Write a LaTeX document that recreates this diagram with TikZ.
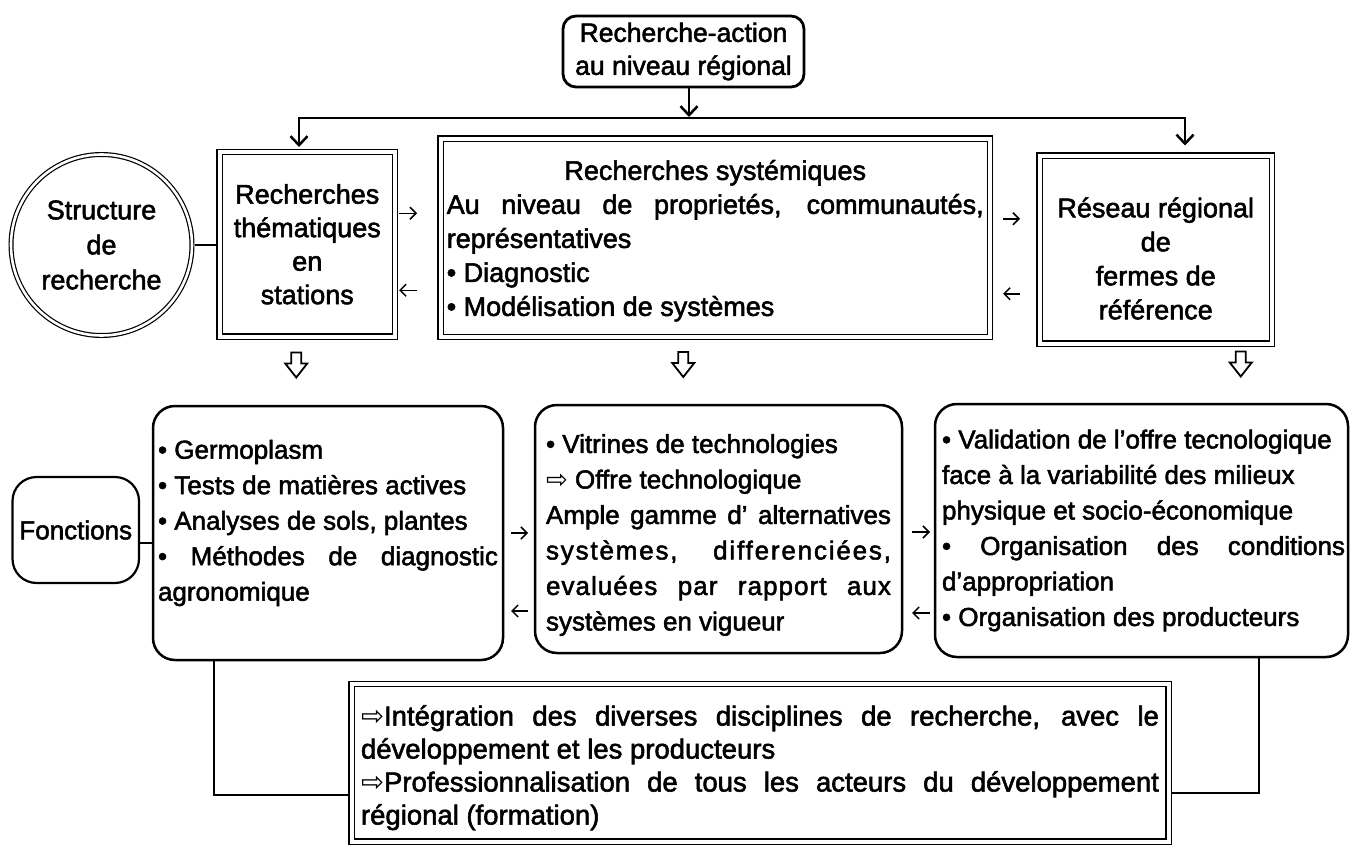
\documentclass[tikz,border=0pt]{standalone}
\usepackage{fontspec}
\setmainfont{Liberation Sans}[FakeBold=2]
\newfontfamily\symf{DejaVu Sans}
\usetikzlibrary{arrows.meta,calc}
\newcommand{\js}[2]{\makebox[#1pt][s]{#2}}
\newcommand{\jl}[2]{\makebox[#1pt][l]{#2}}
\newcommand{\harr}{{\symf ⇨}}
\begin{document}
\begin{tikzpicture}[x=1pt,y=-1pt,
  every node/.style={inner sep=0pt, outer sep=0pt},
  smalltxt/.style={font=\fontsize{26}{35.5}\selectfont},
  dbox/.style={draw, double, double distance=4pt, line width=1.4pt},
  dcirc/.style={draw, circle, double, double distance=2.6pt, line width=1.2pt},
  rbox/.style={draw, rounded corners=22pt, line width=2.5pt},
  busarrow/.style={line width=2.5pt, line join=miter, -{Straight Barb[length=9pt,width=17pt]}},
  sarrow/.style={line width=1.5pt, -{Straight Barb[length=6pt,width=12pt]}},
  conn/.style={line width=1.5pt},
  hollowline/.style={line width=1.8pt, line join=miter},
  hdown/.pic={\draw[hollowline] (-5,0) -- (5,0) -- (5,11) -- (11,11) -- (0,25) -- (-11,11) -- (-5,11) -- cycle;}
]
\useasboundingbox[fill=white] (0,0) rectangle (1359,848);

% top
\node[draw, rounded corners=13pt, line width=2.8pt, minimum width=241pt, minimum height=71pt,
      align=center, font=\fontsize{26.5}{33}\selectfont] (top) at (683.5,51.5)
      {Recherche-action\\au niveau régional};

% first row
\node[dcirc, minimum size=181pt, align=center, font=\fontsize{27}{35}\selectfont] (circ) at (101.5,245)
      {Structure\\de\\recherche};
\node[dbox, minimum width=175.5pt, minimum height=184.5pt, align=center,
      font=\fontsize{27}{33.5}\selectfont] (them) at (307.25,244.25)
      {Recherches\\thématiques\\en\\stations};
\node[dbox, minimum width=549.5pt, minimum height=198.5pt] (sys) at (715.25,237.75) {};
\node[align=center, font=\fontsize{27}{34}\selectfont] (systxt) at ($(sys.center)+(0,3)$)
      {Recherches systémiques\\
       \js{537}{Au niveau de proprietés, communautés,}\\
       \jl{537}{représentatives}\\
       \jl{537}{• Diagnostic}\\
       \jl{537}{• Modélisation de systèmes}};
\node[dbox, minimum width=232.5pt, minimum height=188pt] (res) at (1155.75,249.5) {};
\node[align=center, font=\fontsize{27}{34}\selectfont] (restxt) at ($(res.center)+(0,9)$)
      {Réseau régional\\de\\fermes de\\référence};

% second row
\node[draw, rounded corners=24pt, line width=2.2pt, minimum width=126.5pt, minimum height=106pt,
      font=\fontsize{26}{33}\selectfont] (fonc) at (75.75,530) {Fonctions};
\node[rbox, minimum width=350pt, minimum height=254pt] (ll) at (328,533) {};
\node[align=left, smalltxt] (lltxt) at ($(ll.center)+(0,-10)$)
      {\jl{340}{• Germoplasm}\\
       \jl{340}{• Tests de matières actives}\\
       \jl{340}{• Analyses de sols, plantes}\\
       \js{340}{• Méthodes de diagnostic}\\
       \jl{340}{agronomique}};
\node[rbox, minimum width=367pt, minimum height=248pt] (lm) at (718.5,529) {};
\node[align=left, smalltxt] (lmtxt) at ($(lm.center)+(0,6)$)
      {\jl{345}{• Vitrines de technologies}\\
       \jl{345}{\harr{} Offre technologique}\\
       \js{345}{Ample gamme d' alternatives}\\
       \js{345}{\addfontfeature{LetterSpace=7}systèmes, differenciées,}\\
       \js{345}{\addfontfeature{LetterSpace=4}evaluées par rapport aux}\\
       \jl{345}{systèmes en vigueur}};
\node[rbox, minimum width=413pt, minimum height=253pt] (lr) at (1141.5,530.5) {};
\node[align=left, smalltxt] (lrtxt) at ($(lr.center)+(2,0)$)
      {\jl{403}{• Validation de l'offre tecnologique}\\
       \jl{403}{face à la variabilité des milieux}\\
       \jl{403}{physique et socio-économique}\\
       \js{403}{• Organisation des conditions}\\
       \jl{403}{d'appropriation}\\
       \jl{403}{• Organisation des producteurs}};

% bottom
\node[dbox, minimum width=817pt, minimum height=157.5pt] (bot) at (760,762.75) {};
\node[align=left, font=\fontsize{27.5}{33}\selectfont] (bottxt) at ($(bot.center)+(0,5)$)
      {\js{798}{\harr{}Intégration des diverses disciplines de recherche, avec le}\\
       \jl{798}{développement et les producteurs}\\
       \js{798}{\harr{}Professionnalisation de tous les acteurs du développement}\\
       \jl{798}{régional (formation)}};

% bus
\coordinate (busL) at (299,118);
\coordinate (busR) at (1185,118);
\coordinate (busM) at (689,118);
\draw[busarrow, shorten >=1pt] (top.south -| busM) -- (busM);
\draw[busarrow, shorten >=5pt] (busM) -- (busL) -- (busL |- them.north);
\draw[busarrow, shorten >=10pt] (busM) -- (busR) -- (busR |- res.north);

% small arrows
\draw[sarrow] ($(them.east)+(4,-31)$) -- +(18,0);
\draw[sarrow] ($(them.east)+(22,46)$) -- +(-18,0);
\draw[sarrow] ($(sys.east)+(13,-19)$) -- +(17,0);
\draw[sarrow] ($(sys.east)+(30,56)$) -- +(-17,0);
\draw[sarrow] ($(ll.east)+(8,0)$) -- +(17,0);
\draw[sarrow] ($(ll.east)+(25,78)$) -- +(-17,0);
\draw[sarrow] ($(lm.east)+(10,3)$) -- +(18,0);
\draw[sarrow] ($(lm.east)+(28,84)$) -- +(-18,0);

% hollow arrows
\pic at ($(them.south)+(-11,16)$) {hdown};
\pic at ($(sys.south)+(-32,15)$) {hdown};
\pic at ($(res.south)+(85,8)$) {hdown};

% connectors
\draw[conn, shorten <=2.5pt, shorten >=3.5pt] (circ.east) -- (circ.east -| them.west);
\draw[conn] ($(fonc.east)+(0,13)$) -- ($(fonc.east -| ll.west)+(0,13)$);
\coordinate (cl) at (214,795);
\coordinate (cr) at (1259,793);
\draw[conn, shorten >=3.5pt] (cl |- ll.south) -- (cl) -- (cl -| bot.west);
\draw[conn, shorten >=3.5pt] (cr |- lr.south) -- (cr) -- (cr -| bot.east);
\end{tikzpicture}
\end{document}
